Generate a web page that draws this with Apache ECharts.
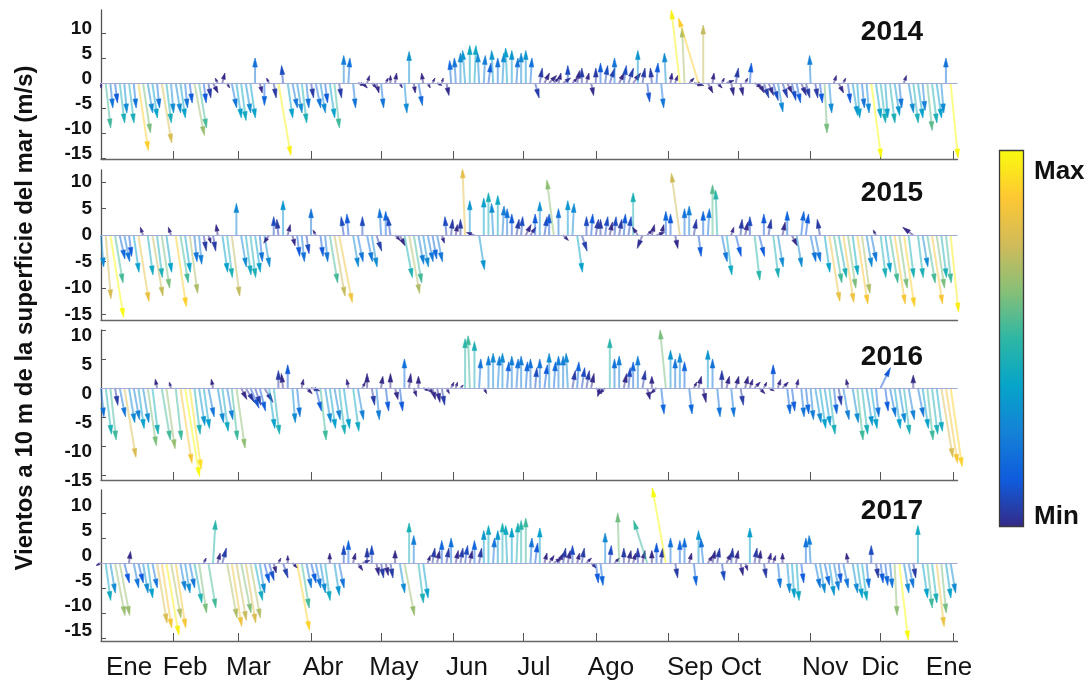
<!DOCTYPE html>
<html>
<head>
<meta charset="utf-8">
<script src="https://cdn.jsdelivr.net/npm/echarts@6/dist/echarts.min.js"></script>
<style>
  html, body { margin: 0; padding: 0; background: #ffffff; }
  #chart { width: 1091px; height: 690px; }
</style>
</head>
<body>
<div id="chart"></div>
<script>
// ---- Data -----------------------------------------------------------------
// Sea-surface (10 m) wind vectors, one sample every 2 days (day-of-year 0..364).
// v = north-south component (m/s), u = east-west component (m/s).
const years = ['2014', '2015', '2016', '2017'];
const sampleStepDays = 2;

const monthTickDays = [31, 59, 90, 120, 151, 181, 212, 243, 273, 304, 334, 365];
const monthLabels = ['Ene', 'Feb', 'Mar', 'Abr', 'May', 'Jun', 'Jul', 'Ago', 'Sep', 'Oct', 'Nov', 'Dic', 'Ene'];
const monthLabelDays = [12, 36, 63.2, 95.1, 125.5, 156.8, 185.5, 218.5, 252.4, 274.2, 310.2, 333.8, 363.3];
const yTickValues = [-15, -10, -5, 0, 5, 10];

const v2014 = [
  -1, -9, -5, -4, -8, -6, -8, -5, -13.5, -10, -6, -7, -5, -12, -8, -6,
  -6, -7, -5, -4, -10.5, -9, -4, -3, -2, 1, 2, -1, -5, -7,
  -7.5, -6, -7, 5, -2, -4.5, 1, -3, -14.5, 3.5, -7, -5, -6, -8, -5, -3,
  -5, -6, -4, -7, -9, -3, 5.5, 5, -5, -0.5, -1, 1.5, -1, -2, -5,
  1, 1.5, 2, -1, -6, 6.3, -2, -4.5, 2, -1, 1, -0.5, 1, -2.5, 4.5,
  5, 6, 6.5, 7.5, 7.5, 6, 5.5, 4, 6.5, 5, 6, 7, 6.5, 5, 6,
  6.5, 5, -3, 3, 2, 1.5, 1, 2, 1, 3.5, 1, 2.5, 3, 2, -2.5, 3,
  4, 3.5, 3, 5, 2, 3.5, 3, 2, 6.5, 3, -3.8, 3, 4, -5, 6,
  2, 1.5, 14.6, 11, 1, -0.5, 13, 11.6, -2, 2, -1, 1, 0.5, -2.5, 3,
  -2.5, 1, 4, -1, -2, -3, -2.5, -3.5, -5.8, -3, -2, -3.5, -4, -2.5, -3, 5.5,
  -3, -4, -10, -6, 1.5, -2, 1, -4, -6.5, -7, -5, -6, -15, -7, -8,
  -7, -8, -6.5, -5, 1.5, -6, -8, -7, -5.5, -9.5, -8, -7, -6, 5, -15
];
const u2014 = [
  0, 1, 0.5, 0.5, 1, 0.5, 1, 0.5, 2, 1.5, 1, 1, 0.5, 2, 1, 0.5,
  1, 1, 0.5, 0.5, 2, 1.5, 0.5, 0.5, 1, -0.5, 0.5, 0.5, 1, 1,
  1, 1, 1, 0, 0.5, 0, -0.5, 0.5, 2.5, -0.3, 1, 1, 1, 1, 0.5, 0.5,
  1, 1, 0.5, 1, 1, 0.5, 0, 0.3, 0.5, 1.5, 1, 0.5, 1, 0.5, 0.5,
  0.5, 0, 0.3, 0.5, 0.5, 0, 0.3, 0.8, -0.3, 0.5, 0.5, 1, 0.3, 0.5, -0.3,
  -0.3, 0, -0.5, 0, 0.3, -0.3, 0.3, 0.5, -0.3, 0, 0.3, -0.3, 0, 0.3, 0,
  0, 0.3, 0.8, 0.5, 1, 1.5, 1, 0.5, 1.5, 0, 1, 0.5, 0, 0.5, 0.5, 0,
  0, 0.5, 1, 0, 1, 0.5, 1, 1.5, 0, 0.5, 0.5, -0.3, 0.3, 0.5, -0.3,
  0.3, 0.5, -1.7, -0.5, 1, 2, -4, 0, 1, 0.3, 1, 0.5, 1.5, 0.5, 0.5,
  0.5, 0.5, 0.3, 1.5, 1, 1, 1, 1, 1, 1, 1, 0.8, 0.8, 1, 0.8, -0.2,
  0.5, 0.5, 0.5, 0.5, 0.5, 1, 0.5, 0.5, 1, 0.5, 0.5, 0.5, 2, 1, 1,
  0.5, 1, 1, 0.5, 0.5, 1, 1, 1, 0.5, 1, 1, 1, 0.5, 0, 1.5
];

const v2015 = [
  -6, -12, -15.5, -9, -4.5, -5, -4, -7, -12.5, 1.5, -7.5, -11.5, -8, -10, -7, 1.5,
  -13.5, -9, -7, -11, -5, -5.5, -3, -1.5, -3, 2, -7, -8, -11.5, 6,
  -6, -7.5, -8, -7, -5, -6, -1.5, 3.5, 3, 6.5, 2, -2, -4, -5, -3.5, 5,
  1, -4, -5, -9, -11.5, -12.7, 3.5, 4, -6, -5, 3.5, -5, -6, -3, 5,
  4.5, 3.5, -1, -2, -8, -11, -9, -5.5, -6, -5, -4.5, -5, -1.5, 3.5, 3,
  2, 3, 12.5, 6.5, 0.5, -6.5, 7, 8, 6, 7.5, 5.5, 5, 4, 3, 3.5,
  2, 1.5, 4, 6.3, 3.5, 4, 10.4, 5, -1, 6.5, 6, -7, -3, 3.5, 4, 3,
  3, 3.5, 2.5, 3.5, 3, 4, 3.5, 8, 1.5, -2.5, 1, 2, 0.5, 2, 4.5,
  4, -2.5, 11.7, 5, 5.5, 3, -4, 4.5, 5, 9.5, 8.5, -5, -7.5, 1.5, -4,
  3, 2.5, 3.5, -8.5, -4, 4, 3, -8, -6, 2.5, 4.5, -2, -6, 4.5, 4, -5,
  -5, 3, -7, -12.5, -9, -8, -12.7, -10, -7.5, -13, -11, -6, -5, 1, -8,
  -7, -9, -13, -10, -13.5, -8, 1.5, -8, -6, -9, -13, -10, -8, -9, -14.5
];
const u2015 = [
  0.5, 1, 2.5, 1.5, 1, 1, 0.5, 1, 2, -0.5, 1, 2, 1, 1.5, 1, -0.5,
  2, 1.5, 1, 1.5, 0.5, 0.5, 0.5, 0.5, 0.5, -0.3, 1, 1, 1.5, 0,
  1, 1, 1, 1, 0.5, 1, -1, 0, -0.3, 0, 0.5, 0.5, 0.5, 0.5, 0.5, 0,
  -0.5, 0.5, 0.5, 1.5, 2, 2.5, -0.5, -0.3, 1, 1, 0, 1, 1, 1, -0.3,
  0, -0.5, 1, 1, 1.5, 2, 1.5, 1, 1, 1, 0.8, 1, 0.5, -0.3, 0.3,
  0.3, 0, -0.5, 0, -1.5, 1, 0, 0, -0.3, 0, 0.3, 0, 0, 0.5, 0.3,
  1, 1, 0, 0, 0.5, 0, -1.3, 0, 1, 0, 0.3, 1, 1, 0, 0.3, 0.5,
  0, 0.5, 0.5, 0.3, 0.5, 0.3, 0.5, 0, -1, -1, 1, 0.5, 1.5, 0.5, 0,
  0, 0.5, -1.6, 0, 0, 0.5, 0.5, 0, 0.3, 0, -0.3, 1, 1, 0.5, 1,
  0.3, 0.5, 0, 1, 1, 0, 0.5, 1, 1, 0.5, 0, 1, 1, 0.5, 0.5, 1,
  1, -0.5, 1, 2, 1.5, 1.5, 2, 1.5, 1, 2, 1.5, 1, 1, -0.5, 1,
  1, 1.5, 2, 1.5, 2, 1, -2, 1, 1, 1.5, 2, 1.5, 1, 1, 1.5
];

const v2016 = [
  -5, -8, -9, -3, -5, -12, -6, -5.5, -7, -6, -10, -8, 1.5, -9, -10.5, 1,
  -9, -13, -15.3, -14, -8, -6.5, -7, -5, 1.5, -6, -7.5, -5.5, -9, -10.4,
  -2, -2.5, -3.5, -3, -4, -2.5, -7, -8, 3, 2.5, 4, -6, -5, 1.5, -1, -0.5,
  -4, -9, -6, -7, -5.5, -8, -7, 1.5, -7.5, -5.5, 1, 2.5, -3, -5.5, 2,
  -4, 2.5, -2, -4, 5, 2.5, -1.5, 2, -0.5, -1, -2, -2.5, -3, -1, 1,
  1, 0.5, 8.5, 9, 8, 5, -1, 5.5, 6, 5.5, 6, 4.5, 5.5, 5, 5.5,
  4.5, 5, 3.5, 5, 4, 6, 4.5, 5.5, 5.5, 6, 3, 4.5, 3.5, 3, 2.5, -1,
  -1.5, -1, 8.5, 5, 5.5, 2.5, 3.5, 4.5, 5.5, 3, -2, 2, -1, -4.5, 10,
  6.5, 5, 6, 4.5, -4.5, 1, 2, -2.5, 6.5, 5, -5, 3, 2, -5, 2,
  -3, 2, 1.5, 1, -1, 1, -0.5, 4, 1.5, 1, -4.5, -4, 1.5, -5, -4.5, -5.5,
  -6, -7, -6.5, -8, -4.5, -3, -5.5, 1.5, -6, -9, -8, -6.5, -7, -5, 3.5,
  -4, -5, -7, -6, -8, -5.5, 2.2, -5, -7, -9, -8, -7.5, -12, -13, -13.6
];
const u2016 = [
  0.5, 1, 1, 0.5, 1, 2, 1, 1, 1, 1, 1.5, 1, -0.3, 1.5, 1.5, -0.3,
  1, 2, 2.5, 2, 1, 1, 1, 1, -0.3, 1, 1, 1, 1, 1.5,
  1, 1.5, 1.5, 1, 1, 1.5, 1, 1, 0, -0.3, 0, 0.5, 0.5, 0.3, 1, 1.5,
  1, 1, 1, 1, 1, 1, 1, -0.3, 1, 1, 0.5, 0, 0.5, 0.5, 0.3,
  0.5, 0, 0.5, 0.5, 0, 0.3, 0.5, 0, 1, 1, 0.5, 0.5, 0.5, 0.5, 0.5,
  0.3, 0.5, 0, -0.3, 0, 0.3, 0.5, 0, 0, 0.3, 0, 0.3, 0, 0.3, 0,
  0.3, 0, 0.3, 0, 0.5, 0, 0.3, 0, 0, -0.3, 0.5, 0.3, 0.5, 0.5, 0.5, 1,
  -0.5, -1, 0, 0, 0, 0.5, 0.3, 0, 0, 0.5, 0.5, 0, -1, 0.5, -1,
  0, 0, 0, 0, 0.5, 0.5, 0.5, 0.5, 0, 0, 0.5, 0, 0.5, 0.5, 0.5,
  0.5, 0.5, 0.5, 1, 1, 0.5, 1, 0, 0.5, 1, 0.5, 0.5, 0.3, 0.5, 0.5, 0.5,
  1, 1, 1, 1, 0.5, 0.5, 1, -0.3, 1, 1, 1, 1, 1, 0.5, 1.7,
  0.5, 1, 1, 1, 1, 1, 0, 1, 1, 1, 1, 1, 2, 2, 2
];

const v2017 = [
  -0.5, -7.5, -6, -10.5, -10.5, -4, 2.3, -5, -4, -6, -7, -5, -12, -13, -14.4, -11,
  -13, -5.5, -6, -5, -8, -10, 1, -9, 8.5, 2, 3, -11, -12.7, -11.5,
  -10, -12, -11, -7.5, -6, -4, -3.5, -2, 1, -3, 1.5, -1, -13.5, -9, -5, -4,
  -5, -6, -7.5, 2, -6.5, -5, 3.5, 4.5, 2, -1.5, 0.5, 3, 3.5, -2.5, -3,
  -2.5, -3, 2.5, -6, -10.5, 8, 5.5, -8, -7, 1.5, 3, 2.5, 4.5, 3, 5,
  2.5, 3, 3.5, 2.5, 4.5, 3, 6.5, 7.5, 5, 6.5, 8, 7.5, 7, 8, 8.5,
  9, 5, 4, 7, 2, 1.5, 1, 2, 3, 2.5, 3.5, 2, 3, 1, -1, -4,
  -4.5, 6, 3.5, 1, 10, 3, 2.5, 2, 3, 2.5, 8.5, 2.5, 4, 3, 15,
  5, -3, 4.5, 5, 2, -4.5, 6.5, 5, 1.5, 2.5, 3, -3.5, 2, 3, 2.5,
  -2.5, -1.5, 7, 3, 2.5, -3, 2, 1.5, -5, 2, -6, -7, -7.5, -4, 5, 5.5,
  -5, -6, -4.5, -6.5, -5.5, -4, -5, 2, -6, -7, -7.5, -5, 3.5, -3, -4,
  -4.5, -5, -10.5, -15.4, -6, -5, -3, 7.5, -7, -9, -8, -12.7, -10, -7, -6
];
const u2017 = [
  -1, 1, 1, 2, 2, 1, 0.3, 1, 1, 1, 1, 1, 2, 2, 2.5, 2,
  2, 1, 1, 1, 1.5, 1.5, 0.5, 1.5, 0.5, 0.5, 0.8, 2, 2, 2,
  2, 2, 2, 1.5, 1, 1, 1, 0.5, 0.5, 1, 0, 1, 2.5, 1.5, 1, 1,
  1, 1, 1, 0, 1, 1, 0, 0, 0.5, 1, 1.5, 0, 0, 0.5, 0.5,
  0.5, 0.5, 0, 1, 2, 0, 0, 1, 1, 0.5, 0.5, 0.5, 0, 0.5, 0,
  0.5, 0.5, 0.5, 0.5, 0, 0.5, 0, 0, 0.3, 0, 0, -0.3, 0, 0.3, 0,
  0, 0.3, 0.5, 0, 0.5, 1, 1.5, 1, 0.5, 0.5, 0, 0.5, 0.5, 1, 1, 0.5,
  0.5, 0, 0.3, 1, -0.3, 0, 0.5, 0.5, 0, 0.5, -2.7, 0, 0, 0.3, -2.7,
  0, 0.5, 0, 0, 0.5, 0.5, 0, -0.5, 1, 0.5, 0.5, 0.5, 1, 0.3, 0.5,
  0.5, 0.5, 0, 0.5, 0.3, 0.5, 0.5, 0.5, 0.5, 0, 0.5, 0.5, 0.5, 0.5, 0, -0.3,
  1, 1, 1, 1, 1, 0.5, 1, -0.3, 1, 1, 1, 0.5, 0, 0.5, 0.5,
  0.5, 0.5, 0.5, 1.8, 1, 1, 0.5, 0, 1, 1, 1, 1.5, 1, 1, 1
];

const vByYear = [v2014, v2015, v2016, v2017];
const uByYear = [u2014, u2015, u2016, u2017];

// ---- Layout (one strip per year) ------------------------------------------
// labelShift nudges the tick labels of a strip up (<0) or down (>0), in px.
const panels = [
  { top: 10,  height: 149, min: -15.2, max: 14.6, ticks: true,  yearY: 32,  labelShift: -4 },
  { top: 170, height: 150, min: -16,   max: 12.3, ticks: false, yearY: 193, labelShift: 0 },
  { top: 330, height: 150, min: -15.9, max: 10,   ticks: true,  yearY: 357, labelShift: 6 },
  { top: 490, height: 151, min: -15.6, max: 14.6, ticks: true,  yearY: 511, labelShift: -7 }
];
const plotLeft = 101;
const plotWidth = 856.6;
const FONT = '"Liberation Sans", Arial, sans-serif';

const parula = ['#352a87', '#0f5cdd', '#1481d6', '#06a4ca', '#2eb7a4',
                '#87bf77', '#d1bb59', '#fec832', '#f9fb0e'];

function buildVectors(v, u) {
  return v.map((val, i) => [i * sampleStepDays, val, u[i], Math.hypot(u[i], val)]);
}

// Stick (feather) arrow: base on the zero line at the sample day,
// tip displaced by (u, v) using the strip's vertical m/s scale for both components.
function renderArrow(params, api) {
  const day = api.value(0);
  const v = api.value(1);
  const u = api.value(2);
  const base = api.coord([day, 0]);
  const tipY = api.coord([day, v])[1];
  const pxPerUnit = api.size([0, 1])[1];
  const tip = [base[0] + u * pxPerUnit, tipY];
  const dx = tip[0] - base[0];
  const dy = tip[1] - base[1];
  const len = Math.hypot(dx, dy);
  if (len < 0.5) return null;
  const color = api.visual('color');
  const ux = dx / len, uy = dy / len;
  const headLen = Math.min(9, len * 0.6);
  const headW = Math.min(2.3, headLen * 0.32);
  const bx = tip[0] - ux * headLen, by = tip[1] - uy * headLen;
  const nx = -uy, ny = ux;
  return {
    type: 'group',
    children: [
      {
        type: 'line',
        shape: { x1: base[0], y1: base[1], x2: bx, y2: by },
        style: { stroke: color, lineWidth: 2, opacity: 0.5 }
      },
      {
        type: 'polygon',
        shape: { points: [tip, [bx + nx * headW, by + ny * headW], [bx - nx * headW, by - ny * headW]] },
        style: { fill: color, stroke: color, lineWidth: 0.6 }
      }
    ]
  };
}

// Tick-label placement: the text box is anchored at the tick and its line box
// height moves the glyphs above or below it.
function labelPlacement(shift) {
  if (shift === 0) return { verticalAlign: 'middle' };
  return shift > 0
    ? { verticalAlign: 'top', lineHeight: 2 * shift }
    : { verticalAlign: 'bottom', lineHeight: -2 * shift };
}

const grid = panels.map(p => ({ left: plotLeft, width: plotWidth, top: p.top, height: p.height }));

const xAxis = panels.map((p, k) => ({
  type: 'value', gridIndex: k, min: 0, max: 367,
  axisLine: { show: true, onZero: false, lineStyle: { color: '#666', width: 1.3 } },
  axisTick: { show: p.ticks, inside: true, length: 8, customValues: monthTickDays,
              lineStyle: { color: '#555', width: 1 } },
  axisLabel: {
    show: k === panels.length - 1,
    customValues: monthLabelDays,
    formatter: (val) => monthLabels[monthLabelDays.indexOf(val)],
    fontFamily: FONT, fontSize: 26, color: '#141414', margin: 14
  },
  splitLine: { show: false }
}));

const yAxis = panels.map((p, k) => ({
  type: 'value', gridIndex: k, min: p.min, max: p.max,
  axisLine: { show: true, lineStyle: { color: '#555', width: 1.3 } },
  axisTick: { show: true, inside: true, length: 5, customValues: yTickValues,
              lineStyle: { color: '#555' } },
  axisLabel: Object.assign({
    customValues: yTickValues, fontFamily: FONT, fontSize: 19,
    fontWeight: 'bold', color: '#111', margin: 9
  }, labelPlacement(p.labelShift)),
  splitLine: { show: false }
}));

const series = panels.map((p, k) => ({
  type: 'custom',
  name: years[k],
  xAxisIndex: k,
  yAxisIndex: k,
  renderItem: renderArrow,
  encode: { x: 0, y: 1 },
  data: buildVectors(vByYear[k], uByYear[k]),
  clip: false,
  silent: true,
  markLine: {
    silent: true, symbol: 'none', label: { show: false },
    lineStyle: { color: '#a3abd6', width: 1.2, type: 'solid' },
    data: [{ yAxis: 0 }]
  }
}));

const graphic = [
  {
    type: 'text', x: 25, y: 318, rotation: Math.PI / 2,
    style: { text: 'Vientos a 10 m de la superficie del mar (m/s)', font: 'bold 24px ' + FONT,
             fill: '#111', align: 'center', verticalAlign: 'middle' }
  },
  {
    type: 'rect', z: 100,
    shape: { x: 999.5, y: 150.5, width: 24, height: 376 },
    style: { fill: 'none', stroke: '#3a3a3a', lineWidth: 1.3 }
  },
  { type: 'text', x: 1034, y: 172,
    style: { text: 'Max', font: 'bold 26px ' + FONT, fill: '#111', verticalAlign: 'middle' } },
  { type: 'text', x: 1034, y: 517,
    style: { text: 'Min', font: 'bold 26px ' + FONT, fill: '#111', verticalAlign: 'middle' } }
].concat(panels.map((p, k) => ({
  type: 'text', x: 892, y: p.yearY,
  style: { text: years[k], font: 'bold 28px ' + FONT, fill: '#111', align: 'center', verticalAlign: 'middle' }
})));

const chart = echarts.init(document.getElementById('chart'));
chart.setOption({
  animation: false,
  backgroundColor: '#ffffff',
  grid, xAxis, yAxis, series, graphic,
  visualMap: {
    type: 'continuous',
    min: 2.5, max: 15,
    dimension: 3,
    seriesIndex: [0, 1, 2, 3],
    orient: 'vertical',
    left: 999, top: 150,
    itemWidth: 25, itemHeight: 377,
    padding: 0,
    calculable: false,
    hoverLink: false,
    inRange: { color: parula }
  }
});
</script>
</body>
</html>
